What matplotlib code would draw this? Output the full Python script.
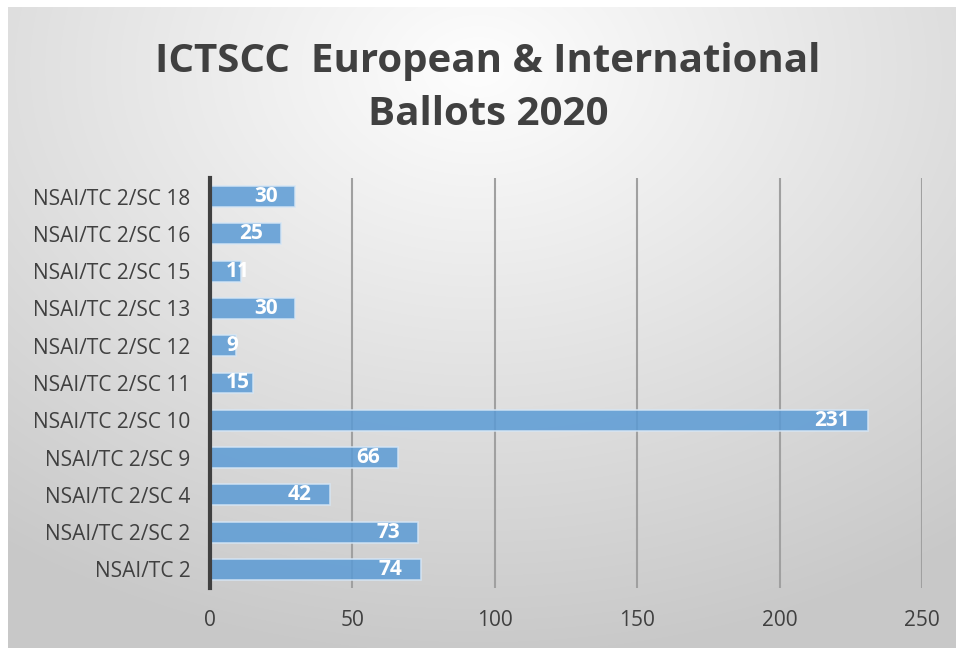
import numpy as np
import matplotlib
matplotlib.use("Agg")
import matplotlib.pyplot as plt
from matplotlib.patches import Rectangle

# datos del grafico
categorias = ["NSAI/TC 2", "NSAI/TC 2/SC 2", "NSAI/TC 2/SC 4", "NSAI/TC 2/SC 9",
              "NSAI/TC 2/SC 10", "NSAI/TC 2/SC 11", "NSAI/TC 2/SC 12",
              "NSAI/TC 2/SC 13", "NSAI/TC 2/SC 15", "NSAI/TC 2/SC 16",
              "NSAI/TC 2/SC 18"]
valores = [74, 73, 42, 66, 231, 15, 9, 30, 11, 25, 30]
ticks_x = [0, 50, 100, 150, 200, 250]
titulo = "ICTSCC  European & International\nBallots 2020"

plt.rcParams['font.family'] = ['Open Sans', 'DejaVu Sans']
plt.rcParams['savefig.bbox'] = 'standard'
gris = '#404040'

fig = plt.figure(figsize=(9.56, 6.48), dpi=100, facecolor='#c6c6c6')

# fondo con degradado radial (blanco arriba al centro, gris en los bordes)
yy, xx = np.mgrid[0:648, 0:956]
dist = np.sqrt(((xx - 478) / 950.0) ** 2 + ((yy - 67) / 700.0) ** 2)
dist = np.clip(dist / 0.85, 0, 1)
nivel = 0.995 - 0.21 * dist
fig.figimage(np.dstack([nivel, nivel, nivel]), xo=0, yo=0, origin='upper', zorder=-10)
# margen blanco arriba y a la izquierda
fig.patches.append(Rectangle((0, 0), 8/956, 1, transform=fig.transFigure,
                             facecolor='white', edgecolor='none', zorder=-5))
fig.patches.append(Rectangle((0, 1 - 7/648), 1, 7/648, transform=fig.transFigure,
                             facecolor='white', edgecolor='none', zorder=-5))

ax = fig.add_axes([210/956, 1 - 588/648, 712/956, 410/648])
ax.patch.set_alpha(0)

y = np.arange(len(categorias))
ax.barh(y, valores, height=0.56, color='#5b9bd5', alpha=0.85,
        edgecolor='#d6e6f5', linewidth=1.2, zorder=3)

ax.set_xlim(0, 250)
ax.set_ylim(-0.5, len(categorias) - 0.5)
ax.set_xticks(ticks_x)
ax.set_yticks(y)
ax.set_yticklabels(categorias)
ax.tick_params(axis='both', length=0, colors=gris, labelsize=15)
ax.tick_params(axis='x', pad=16)
ax.tick_params(axis='y', pad=14)

ax.grid(axis='x', color='#a0a0a0', linewidth=1.5, zorder=1)
for s in ['top', 'right', 'bottom']:
    ax.spines[s].set_visible(False)
ax.spines['left'].set_color(gris)
ax.spines['left'].set_linewidth(3)
ax.spines['left'].set_zorder(5)

# etiquetas de valor dentro del extremo de la barra
# (si la barra es corta, la etiqueta empieza cerca del eje, como en Excel)
for yi, v in zip(y, valores):
    if v < 20:
        ax.annotate(str(v), (0, yi), xytext=(11.5, 0), textcoords='offset points',
                    ha='left', va='center', color='white', fontsize=15,
                    fontweight='bold', zorder=6)
    else:
        ax.annotate(str(v), (v, yi), xytext=(-13, 0), textcoords='offset points',
                    ha='right', va='center', color='white', fontsize=15,
                    fontweight='bold', zorder=6)

fig.text(488/956, 1 - 88/648, titulo, ha='center', va='center', fontsize=29,
         fontweight='bold', color=gris, linespacing=1.45)

fig.savefig('out.png', dpi=100, bbox_inches=None, facecolor=fig.get_facecolor())
